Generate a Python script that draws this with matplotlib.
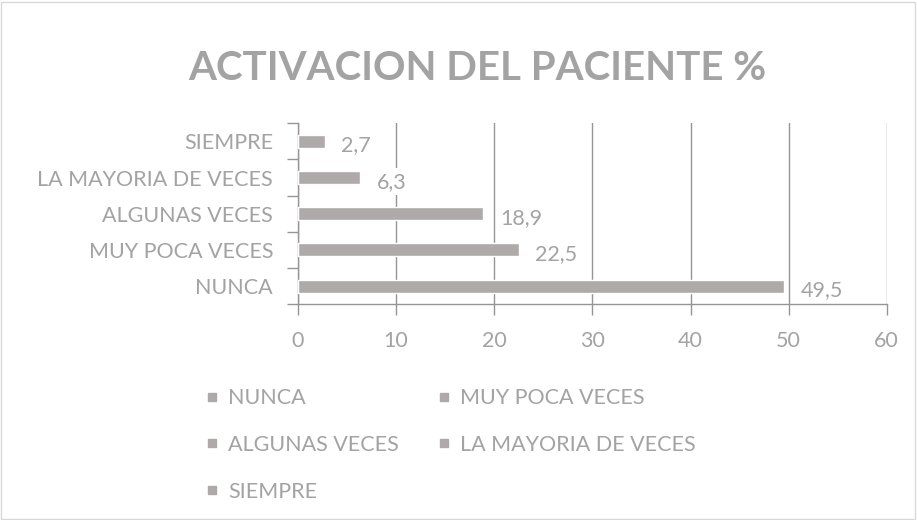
import matplotlib
matplotlib.use("Agg")
import matplotlib.pyplot as plt
from matplotlib.patches import Rectangle
from matplotlib.lines import Line2D

categories = ["NUNCA", "MUY POCA VECES", "ALGUNAS VECES", "LA MAYORIA DE VECES", "SIEMPRE"]
values = [49.5, 22.5, 18.9, 6.3, 2.7]
value_labels = ["49,5", "22,5", "18,9", "6,3", "2,7"]
xticks = [0, 10, 20, 30, 40, 50, 60]
title = "ACTIVACION DEL PACIENTE %"

txt = "#A3A3A3"
bar_c = "#ADAAA9"
grid_c = "#959595"
fs = 15.5
plt.rcParams['font.family'] = ['Lato', 'DejaVu Sans']

fig = plt.figure(figsize=(9.17, 5.2), dpi=100)
fig.patches.append(Rectangle((0.001, 0.002), 0.997, 0.995, transform=fig.transFigure,
                             fill=False, edgecolor="#D9D9D9", linewidth=1))
ax = fig.add_axes([0.325, 0.415, 0.642, 0.348])

y = list(range(len(categories)))
ax.barh(y, values, height=0.36, color=bar_c, edgecolor="white", linewidth=1, zorder=3)
ax.set_xlim(0, 60)
ax.set_ylim(-0.5, len(categories) - 0.5)
ax.set_xticks(xticks)
ax.set_xticklabels([str(t) for t in xticks], color=txt, fontsize=fs)
ax.set_yticks(y)
ax.set_yticklabels(categories, color=txt, fontsize=fs)
ax.tick_params(axis='y', length=0, pad=18)
ax.set_yticks([i - 0.5 for i in range(len(categories) + 1)], minor=True)
ax.tick_params(axis='y', which='minor', length=8, color=grid_c, width=1)
ax.tick_params(axis='x', length=8, color=grid_c, width=1, pad=11.5)
ax.grid(axis='x', color=grid_c, linewidth=1, zorder=1)
for s in ['top', 'right']:
    ax.spines[s].set_visible(False)
for s in ['left', 'bottom']:
    ax.spines[s].set_color(grid_c)
    ax.spines[s].set_linewidth(1)

for yi, v, lab in zip(y, values, value_labels):
    ax.annotate(lab, (v, yi), xytext=(12, -3), textcoords='offset points',
                ha='left', va='center', color=txt, fontsize=fs, zorder=4,
                bbox=dict(boxstyle='square,pad=0.15', facecolor='white', edgecolor='none'))

fig.text(0.521, 0.868, title, ha='center', va='center', color=txt,
         fontsize=29, fontweight='bold')

handles = [Line2D([], [], marker='s', linestyle='none', markersize=6,
                  markerfacecolor=bar_c, markeredgecolor=bar_c) for _ in categories]
order = [0, 2, 4, 1, 3]
fig.legend([handles[i] for i in order], [categories[i] for i in order],
           loc='upper left', bbox_to_anchor=(0.203, 0.291),
           ncol=2, frameon=False, fontsize=fs, labelcolor=txt,
           handlelength=0.6, handletextpad=0.45, columnspacing=1.8, labelspacing=1.25)

fig.savefig("out.png", dpi=100)
